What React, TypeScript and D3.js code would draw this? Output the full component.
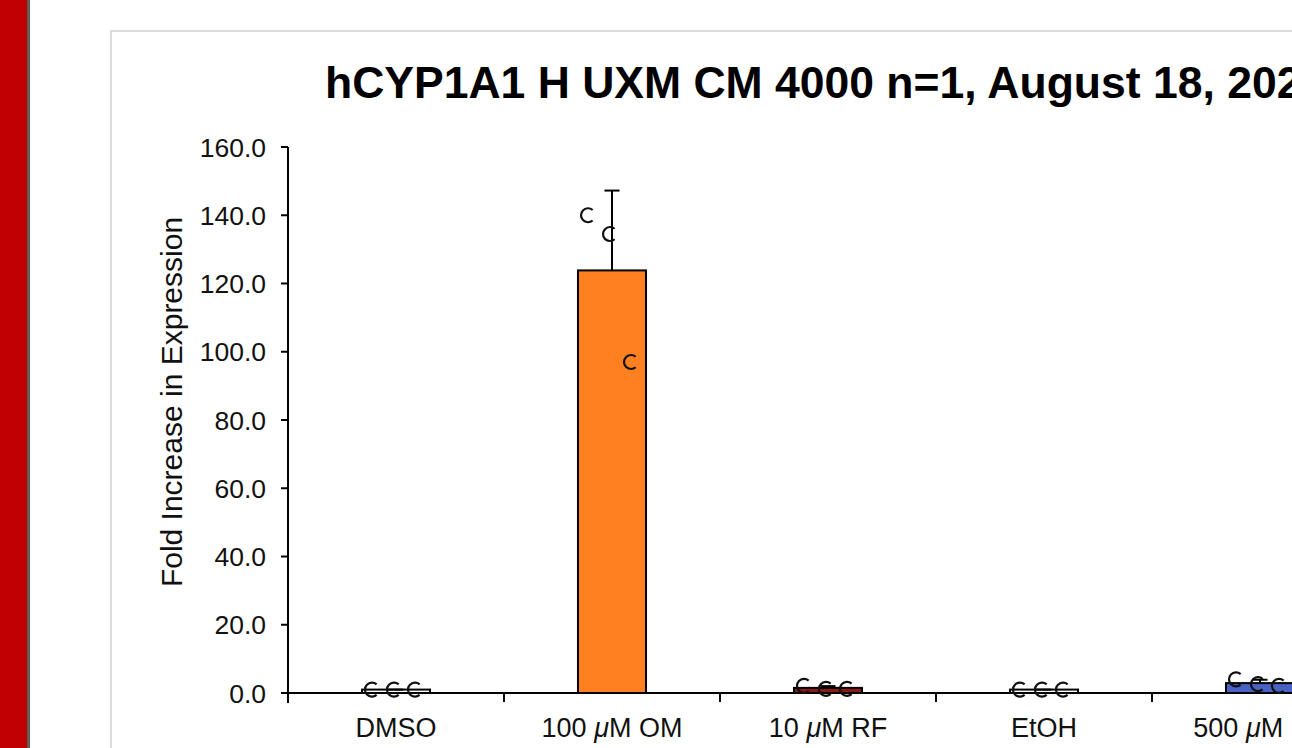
import React from "react";
import * as d3 from "d3";

// Treatments along the x axis
const categories = ["DMSO", "100 μM OM", "10 μM RF", "EtOH", "500 μM PB"];
// Replicate fold-increase values per treatment (n = 3)
const replicateA = [1.0, 140.0, 2.1, 1.0, 4.0];
const replicateB = [1.0, 134.5, 1.2, 1.0, 2.6];
const replicateC = [1.0, 97.0, 1.2, 1.0, 2.1];
const barFills = ["#ffffff", "#ff8020", "#8b1a14", "#ffffff", "#4a62c4"];
const yTicks = [0, 20, 40, 60, 80, 100, 120, 140, 160];
const replicateOffsets = [-24, -2, 19];

const FONT = "'Liberation Sans', Arial, Helvetica, sans-serif";

// open "c"-shaped replicate marker, gap facing right
function markerPath(r: number) {
  const p = d3.path();
  const a0 = Math.PI * 0.27;
  const a1 = Math.PI * 1.73;
  p.moveTo(r * Math.cos(a0), r * Math.sin(a0));
  p.arc(0, 0, r, a0, a1);
  return p.toString();
}

export default function App() {
  const W = 1292;
  const H = 748;
  const axisLeft = 288;
  const bandW = 216;
  const y = d3.scaleLinear().domain([0, 160]).range([693, 147]);
  const x = d3
    .scaleBand<string>()
    .domain(categories)
    .range([axisLeft, axisLeft + bandW * categories.length])
    .padding(0);
  const barW = x.bandwidth() * 0.315;

  const stats = categories.map((c, i) => {
    const vals = [replicateA[i], replicateB[i], replicateC[i]];
    const mean = d3.mean(vals) as number;
    const sd = (d3.deviation(vals) as number) || 0;
    return { c, i, vals, mean, sd };
  });

  const marker = markerPath(7);

  const renderLabel = (s: string) => {
    const parts = s.split("μ");
    if (parts.length === 1) return s;
    return (
      <>
        {parts[0]}
        <tspan fontStyle="italic">μ</tspan>
        {parts[1]}
      </>
    );
  };

  const x0 = x.range()[0];
  const xEnd = W + 20;

  return (
    <svg
      width={W}
      height={H}
      style={{ position: "absolute", left: 0, top: 0, background: "#fff" }}
      fontFamily={FONT}
    >
      {/* page frame */}
      <rect x={0} y={0} width={27} height={H} fill="#c00000" />
      <rect x={27} y={0} width={3} height={H} fill="#5e5e5e" />
      <rect
        x={111}
        y={31}
        width={W}
        height={H}
        fill="#fff"
        stroke="#dcdcdc"
        strokeWidth={2}
      />

      {/* title */}
      <text x={325} y={98} fontSize={44.5} fontWeight="bold" fill="#000">
        hCYP1A1 H UXM CM 4000 n=1, August 18, 2021
      </text>

      {/* y axis label */}
      <text
        transform={`translate(182,402) rotate(-90)`}
        textAnchor="middle"
        fontSize={30}
        fill="#111"
      >
        Fold Increase in Expression
      </text>

      {/* y axis */}
      <line x1={axisLeft} x2={axisLeft} y1={y(160)} y2={y(0) + 10} stroke="#000" strokeWidth={2} />
      {yTicks.map((t) => (
        <g key={t}>
          <line x1={axisLeft - 7} x2={axisLeft} y1={y(t)} y2={y(t)} stroke="#000" strokeWidth={2} />
          <text
            x={266}
            y={y(t)}
            dy="0.36em"
            textAnchor="end"
            fontSize={26.5}
            fill="#111"
          >
            {d3.format(".1f")(t)}
          </text>
        </g>
      ))}

      {/* bars */}
      {stats.map((s) => {
        const cx = (x(s.c) as number) + x.bandwidth() / 2;
        return (
          <rect
            key={"bar" + s.i}
            x={cx - barW / 2}
            y={y(s.mean)}
            width={barW}
            height={y(0) - y(s.mean)}
            fill={barFills[s.i]}
            stroke="#000"
            strokeWidth={2}
          />
        );
      })}

      {/* upper error bars */}
      {stats.map((s) => {
        const cx = (x(s.c) as number) + x.bandwidth() / 2;
        const top = y(s.mean + s.sd);
        return (
          <g key={"err" + s.i} stroke="#000" strokeWidth={2}>
            <line x1={cx} x2={cx} y1={y(s.mean)} y2={top} />
            <line x1={cx - 7.5} x2={cx + 7.5} y1={top} y2={top} />
          </g>
        );
      })}

      {/* x axis */}
      <line x1={x0} x2={xEnd} y1={y(0)} y2={y(0)} stroke="#000" strokeWidth={2} />
      {categories.map((c, i) => (
        <line
          key={"xt" + i}
          x1={(x(c) as number) + x.bandwidth()}
          x2={(x(c) as number) + x.bandwidth()}
          y1={y(0)}
          y2={y(0) + 9}
          stroke="#000"
          strokeWidth={2}
        />
      ))}
      {categories.map((c, i) => (
        <text
          key={"xl" + i}
          x={(x(c) as number) + x.bandwidth() / 2}
          y={737}
          textAnchor="middle"
          fontSize={27}
          fill="#111"
        >
          {renderLabel(c)}
        </text>
      ))}

      {/* replicate markers */}
      {stats.map((s) =>
        s.vals.map((v, j) => {
          const cx = (x(s.c) as number) + x.bandwidth() / 2 + replicateOffsets[j];
          return (
            <path
              key={`m${s.i}-${j}`}
              d={marker}
              transform={`translate(${cx},${y(v)})`}
              fill="none"
              stroke="#111"
              strokeWidth={2.2}
            />
          );
        })
      )}
    </svg>
  );
}
